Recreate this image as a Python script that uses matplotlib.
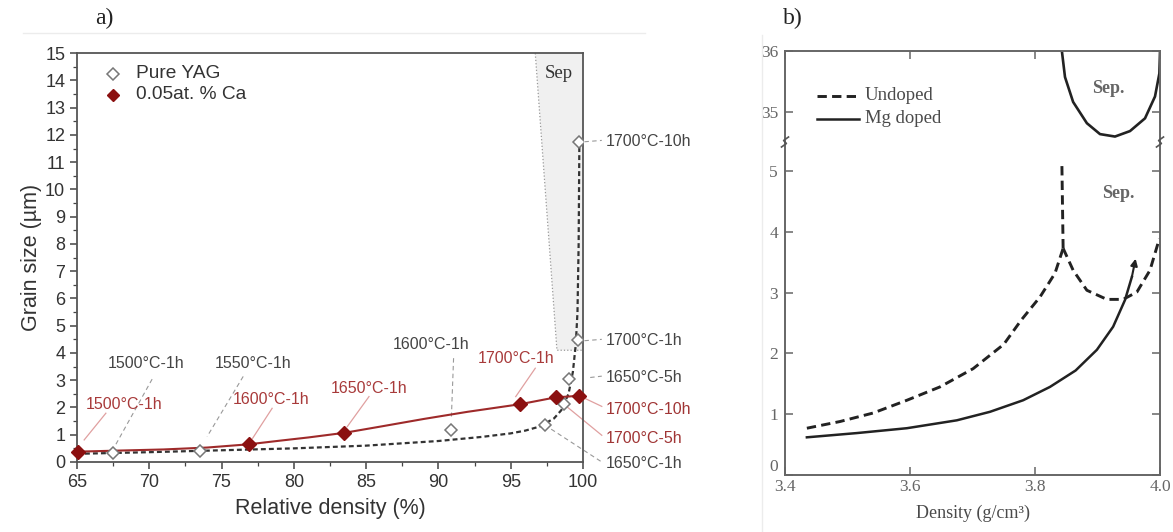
import matplotlib
matplotlib.use("Agg")
import matplotlib.pyplot as plt
from matplotlib.lines import Line2D

# ---- panel a data ----
pure_x = [67.5, 73.5, 90.9, 97.35, 98.7, 99.05, 99.67, 99.72]
pure_y = [0.32, 0.40, 1.19, 1.36, 2.13, 3.04, 4.46, 11.75]

ca_x = [65.1, 76.9, 83.5, 95.65, 98.1, 99.75]
ca_y = [0.38, 0.65, 1.07, 2.12, 2.37, 2.43]

# smooth red guide line through the Ca points
ca_line_x = [65.1, 68, 71, 74, 76.9, 79, 81, 83.5, 86, 89, 92, 95.65, 98.1, 99.75]
ca_line_y = [0.38, 0.42, 0.46, 0.53, 0.65, 0.78, 0.90, 1.07, 1.30, 1.58, 1.84, 2.12, 2.37, 2.43]

# dashed guide line for pure YAG
fit_x = [65, 70, 75, 80, 85, 90, 93, 95, 96, 97, 98, 98.5, 99, 99.3, 99.5, 99.62, 99.7, 99.75]
fit_y = [0.30, 0.36, 0.43, 0.50, 0.60, 0.77, 0.92, 1.05, 1.15, 1.30, 1.60, 1.90, 2.50, 3.30, 4.30, 5.5, 8.0, 11.75]

sep_x = [96.7, 98.2, 100, 100]
sep_y = [15, 4.1, 4.1, 15]

# labels: text, text pos, leader start, leader end
black_labels = [
    ("1500°C-1h", (69.8, 3.63), (70.2, 3.04), (67.6, 0.56)),
    ("1550°C-1h", (77.15, 3.63), (76.5, 3.14), (74.0, 0.93)),
    ("1600°C-1h", (89.5, 4.3), (91.05, 3.81), (90.9, 1.67)),
]
red_labels = [
    ("1500°C-1h", (68.26, 2.1), (67.0, 1.79), (65.5, 0.81)),
    ("1600°C-1h", (78.4, 2.28), (78.5, 1.97), (77.15, 0.87)),
    ("1650°C-1h", (85.2, 2.7), (85.2, 2.4), (83.7, 1.3)),
    ("1700°C-1h", (95.35, 3.81), (96.7, 3.44), (95.35, 2.4)),
]
right_labels = [
    ("1700°C-10h", 11.75, (100.1, 11.75), "#444"),
    ("1700°C-1h", 4.45, (100.1, 4.45), "#444"),
    ("1650°C-5h", 3.1, (100.5, 3.1), "#444"),
    ("1700°C-10h", 1.94, (99.75, 2.43), "#a03535"),
    ("1700°C-5h", 0.88, (98.1, 2.37), "#a03535"),
    ("1650°C-1h", -0.05, (97.35, 1.36), "#444"),
]

# ---- panel b data ----
undoped_x = [3.435, 3.488, 3.541, 3.595, 3.648, 3.701, 3.750, 3.778, 3.808, 3.832, 3.845]
undoped_y = [0.77, 0.88, 1.02, 1.23, 1.45, 1.75, 2.15, 2.55, 2.93, 3.32, 3.73]
spike_x = [3.845, 3.843]
spike_y = [3.73, 5.13]
undoped2_x = [3.845, 3.861, 3.883, 3.915, 3.941, 3.963, 3.984, 3.999]
undoped2_y = [3.73, 3.37, 3.04, 2.89, 2.89, 3.01, 3.37, 3.89]
mg_x = [3.435, 3.515, 3.595, 3.675, 3.728, 3.781, 3.824, 3.865, 3.899, 3.925, 3.944, 3.955]
mg_y = [0.62, 0.69, 0.77, 0.90, 1.04, 1.23, 1.45, 1.72, 2.06, 2.44, 2.88, 3.26]
sep_top_x = [3.843, 3.848, 3.861, 3.883, 3.904, 3.928, 3.952, 3.976, 3.992, 3.999, 4.0]
sep_top_y = [36.0, 35.57, 35.16, 34.81, 34.63, 34.59, 34.68, 34.89, 35.25, 35.63, 35.98]
b_xticks = [3.4, 3.6, 3.8, 4.0]
b_low_yticks = [0, 1, 2, 3, 4, 5]
b_up_yticks = [35, 36]

SANS = ["Liberation Sans", "DejaVu Sans"]
SERIF = ["Liberation Serif", "DejaVu Serif"]
RED = "#9e2a2a"
RED_TXT = "#a83a3a"

fig = plt.figure(figsize=(11.73, 5.32), dpi=100)

# ================= panel a =================
ax = fig.add_axes([0.0656, 0.1316, 0.4314, 0.7684])
ax.set_xlim(65, 100)
ax.set_ylim(0, 15)
ax.fill(sep_x, sep_y, color="#f0f0f0", zorder=0, lw=0)
ax.plot(sep_x[:3], sep_y[:3], ls=":", color="#999", lw=0.9, zorder=1)
ax.text(98.35, 14.25, "Sep", family=SERIF, fontsize=13.5, color="#333", ha="center", va="center")

ax.plot(fit_x, fit_y, ls=(0, (2.2, 1.4)), color="#333", lw=1.6, zorder=3)
ax.plot(ca_line_x, ca_line_y, color=RED, lw=1.5, zorder=3)
ax.plot(pure_x, pure_y, ls="none", marker="D", ms=6.5, mfc="white", mec="#777", mew=1.1, zorder=4)
ax.plot(ca_x, ca_y, ls="none", marker="D", ms=7, mfc="#8b1010", mec="#8b1010", zorder=5, clip_on=False)

for txt, (tx, ty), p0, p1 in black_labels:
    ax.text(tx, ty, txt, family=SANS, fontsize=11.5, color="#444", ha="center", va="center")
    ax.plot([p0[0], p1[0]], [p0[1], p1[1]], ls=(0, (4, 3)), color="#999", lw=0.8)
for txt, (tx, ty), p0, p1 in red_labels:
    ax.text(tx, ty, txt, family=SANS, fontsize=11.5, color=RED_TXT, ha="center", va="center")
    ax.plot([p0[0], p1[0]], [p0[1], p1[1]], color="#e0a0a0", lw=0.9)
for txt, ty, p0, col in right_labels:
    ax.text(101.6, ty, txt, family=SANS, fontsize=11.5, color=col, ha="left", va="center",
            clip_on=False)
    if col == "#444":
        ax.plot([p0[0], 101.3], [p0[1], ty + 0.05], ls=(0, (4, 3)), color="#999", lw=0.8,
                clip_on=False)
    else:
        ax.plot([p0[0], 101.3], [p0[1], ty + 0.1], color="#e0a0a0", lw=0.9, clip_on=False)

# legend
ax.plot([67.5], [14.24], ls="none", marker="D", ms=6, mfc="white", mec="#777", mew=1.1)
ax.plot([67.5], [13.47], ls="none", marker="D", ms=6.5, mfc="#8b1010", mec="#8b1010")
ax.text(69.1, 14.24, "Pure YAG", family=SANS, fontsize=13.8, color="#333", va="center")
ax.text(69.1, 13.47, "0.05at. % Ca", family=SANS, fontsize=13.8, color="#333", va="center")

ax.set_xticks(range(65, 101, 5))
ax.set_xticks([65 + 2.5 * i for i in range(15)], minor=True)
ax.set_yticks(range(0, 16))
ax.set_yticks([0.5 * i for i in range(31)], minor=True)
ax.tick_params(which="major", direction="out", length=5, width=1.1, color="#444",
               labelsize=13, labelcolor="#333", top=False, right=False)
ax.tick_params(which="minor", direction="out", length=3, width=0.9, color="#444",
               top=False, right=False)
for lab in ax.get_xticklabels() + ax.get_yticklabels():
    lab.set_family(SANS)
for s in ax.spines.values():
    s.set_color("#555")
    s.set_linewidth(1.3)
ax.set_xlabel("Relative density (%)", family=SANS, fontsize=15.5, color="#333", labelpad=5)
ax.set_ylabel("Grain size (µm)", family=SANS, fontsize=15.5, color="#333", labelpad=2)

fig.text(95 / 1173, 1 - 18 / 532, "a)", family=SERIF, fontsize=17, color="#222", va="center")
fig.text(783 / 1173, 1 - 18 / 532, "b)", family=SERIF, fontsize=17, color="#222", va="center")
fig.add_artist(Line2D([0.02, 0.55], [1 - 33 / 532] * 2, color="#ececec", lw=1))
fig.add_artist(Line2D([762 / 1173] * 2, [0.0, 1 - 35 / 532], color="#ececec", lw=1))

# ================= panel b =================
bx0, bw = 785 / 1173, 375 / 1173
yb0, ybrk, yb1 = 1 - 475 / 532, 1 - 142 / 532, 1 - 51 / 532
axl = fig.add_axes([bx0, yb0, bw, ybrk - yb0])
axu = fig.add_axes([bx0, ybrk, bw, yb1 - ybrk], sharex=axl)
axl.set_xlim(3.4, 4.0)
axl.set_ylim(0, 5.48)
axu.set_ylim(34.5, 36)

GRAY = "#4a4a4a"
DASH = (0, (3.2, 1.8))
axl.plot(undoped_x, undoped_y, color="#222", lw=2.1, ls=DASH)
axl.plot(spike_x, spike_y, color="#222", lw=2.1, ls=DASH)
axl.plot(undoped2_x, undoped2_y, color="#222", lw=2.1, ls=DASH)
axl.plot(mg_x, mg_y, color="#222", lw=1.8)
axl.annotate("", xy=(3.961, 3.56), xytext=(mg_x[-1], mg_y[-1]),
             arrowprops=dict(arrowstyle="-|>", color="#222", lw=1.5, mutation_scale=10,
                             shrinkA=0, shrinkB=0))
axu.plot(sep_top_x, sep_top_y, color="#222", lw=1.9)
axu.text(3.917, 35.38, "Sep.", family=SERIF, fontsize=13, weight="bold", color="#666",
         ha="center", va="center")
axl.text(3.933, 4.64, "Sep.", family=SERIF, fontsize=13, weight="bold", color="#666",
         ha="center", va="center")

axu.plot([3.451, 3.518], [35.26, 35.26], color="#222", lw=2.1, ls=DASH)
axu.plot([3.451, 3.518], [34.88, 34.88], color="#222", lw=1.8)
axu.text(3.528, 35.26, "Undoped", family=SERIF, fontsize=13.5, color=GRAY, va="center")
axu.text(3.528, 34.88, "Mg doped", family=SERIF, fontsize=13.5, color=GRAY, va="center")

for a in (axl, axu):
    a.tick_params(direction="in", length=6, width=1.1, color="#666",
                  left=True, right=True, pad=5)
    for s in a.spines.values():
        s.set_color("#666")
        s.set_linewidth(1.4)
axl.set_xticks(b_xticks)
axl.set_xticklabels([f"{v:.1f}" for v in b_xticks], family=SERIF, fontsize=12.5, color="#666")
axl.set_yticks(b_low_yticks)
axl.set_yticklabels([str(v) for v in b_low_yticks], family=SERIF, fontsize=12.5, color="#666")
axu.set_yticks(b_up_yticks)
axu.set_yticklabels([str(v) for v in b_up_yticks], family=SERIF, fontsize=12.5, color="#666")
axl.tick_params(axis="x", top=False, bottom=True, pad=3)
axu.tick_params(axis="x", top=True, bottom=False, labelbottom=False)
axl.spines["top"].set_visible(False)
axu.spines["bottom"].set_visible(False)
axl.get_yticklabels()[0].set_va("bottom")
axl.set_xlabel("Density (g/cm³)", family=SERIF, fontsize=13, color=GRAY, labelpad=7)

# break marks on the left and right spines
for fx in (bx0, bx0 + bw):
    dx, dy = 3.5 / 1173, 5 / 532
    fig.add_artist(Line2D([fx - dx, fx + dx * 0.4, fx - dx * 0.4, fx + dx],
                          [ybrk - dy, ybrk - dy * 0.3, ybrk + dy * 0.3, ybrk + dy],
                          color="#555", lw=1.2))

fig.savefig("out.png", dpi=100)
